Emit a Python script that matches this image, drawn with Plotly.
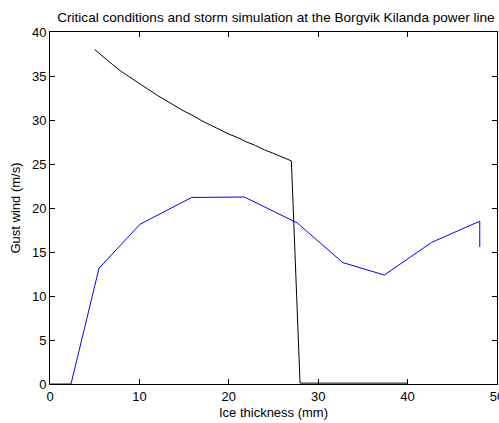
import plotly.graph_objects as go

# Critical gust wind vs ice thickness (black) and storm simulation path (blue)
ice_critical = [5, 6, 7, 8, 9, 10, 11, 12, 13, 14, 15, 16, 17, 18, 19, 20,
                21, 22, 23, 24, 25, 26, 27, 27.97, 40]
wind_critical = [38.0, 37.1, 36.3, 35.5, 34.8, 34.1, 33.4, 32.8, 32.2, 31.6,
                 31.0, 30.5, 29.9, 29.4, 28.9, 28.4, 28.0, 27.5, 27.1, 26.6,
                 26.2, 25.8, 25.35, 0.1, 0.1]

ice_storm = [0, 2.35, 5.48, 10.07, 15.85, 21.74, 27.66, 32.74, 37.4, 42.7, 48.07, 48.07]
wind_storm = [0, 0, 13.15, 18.15, 21.2, 21.25, 18.3, 13.8, 12.38, 16.1, 18.5, 15.57]

x_ticks = [0, 10, 20, 30, 40, 50]
y_ticks = [0, 5, 10, 15, 20, 25, 30, 35, 40]

fig = go.Figure()
fig.add_trace(go.Scatter(x=ice_critical, y=wind_critical, mode="lines",
                         line=dict(color="#000000", width=1)))
fig.add_trace(go.Scatter(x=ice_storm, y=wind_storm, mode="lines",
                         line=dict(color="#0000ff", width=1)))

font = dict(family="Liberation Sans, Arial, sans-serif", size=13, color="#000000")
axis_common = dict(showgrid=False, zeroline=False, showline=True, linecolor="#000000",
                   linewidth=1, mirror="ticks", ticks="inside", ticklen=5,
                   tickcolor="#000000", tickwidth=1, tickfont=font,
                   ticklabeloverflow="allow", automargin=False)

fig.update_layout(
    width=499, height=423,
    margin=dict(l=50, r=2, t=32, b=39),
    paper_bgcolor="#ffffff", plot_bgcolor="#ffffff",
    showlegend=False,
    font=font,
    title=dict(text="Critical conditions and storm simulation at the Borgvik Kilanda power line",
               xref="container", x=0.553, xanchor="center", y=0.96, yanchor="middle",
               font=dict(family="Liberation Sans, Arial, sans-serif", size=13.6, color="#000000")),
    xaxis=dict(range=[0, 50], tickvals=x_ticks, ticktext=[str(v) for v in x_ticks],
               title=dict(text="Ice thickness (mm)", font=font, standoff=5), **axis_common),
    yaxis=dict(range=[0, 40], tickvals=y_ticks, ticktext=[str(v) for v in y_ticks],
               title=dict(text="Gust wind (m/s)", font=font, standoff=8), **axis_common),
)

fig.write_html("out.html")
